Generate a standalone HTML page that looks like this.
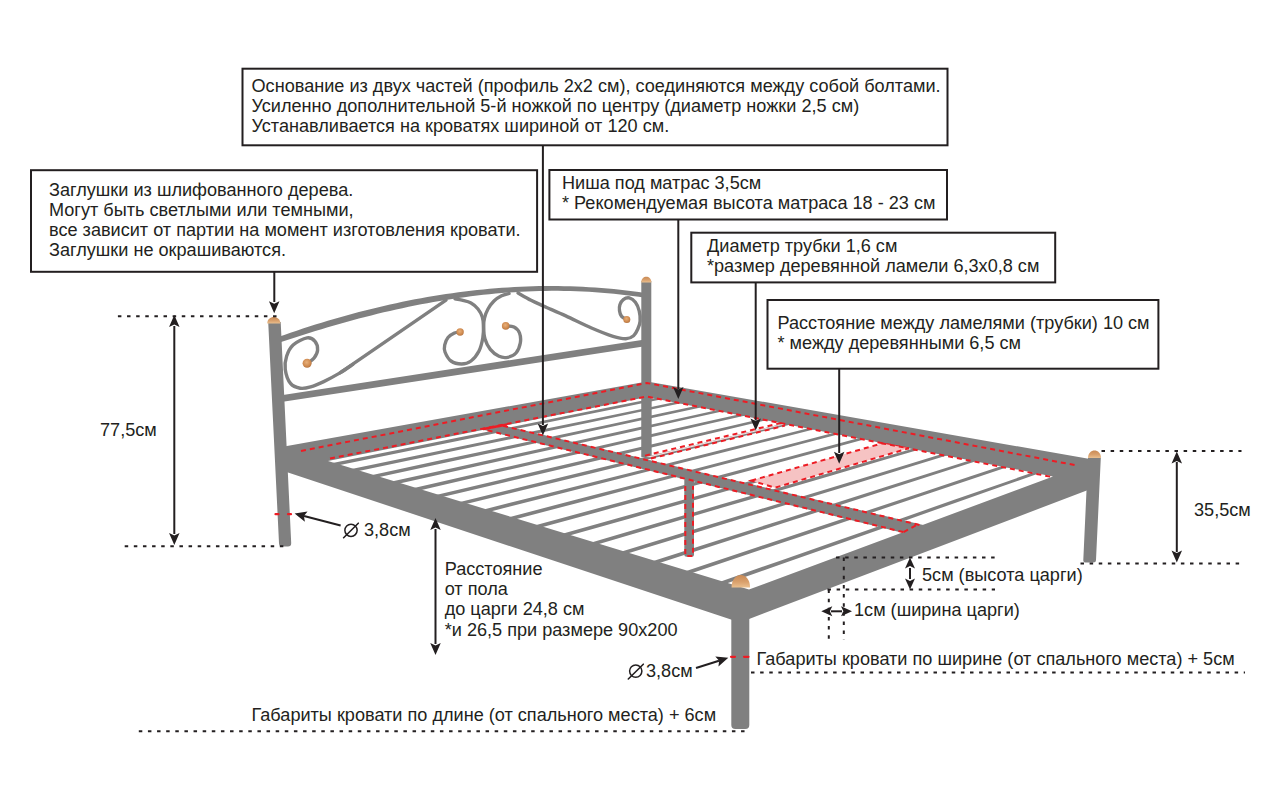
<!DOCTYPE html>
<html><head><meta charset="utf-8"><style>html,body{margin:0;padding:0;background:#fff;width:1280px;height:800px;overflow:hidden}svg{display:block}</style></head>
<body><svg width="1280" height="800" viewBox="0 0 1280 800">
<defs><linearGradient id="capg" x1="0" y1="0" x2="0" y2="1"><stop offset="0" stop-color="#c98a55"/><stop offset="0.55" stop-color="#d9a06c"/><stop offset="1" stop-color="#ebc08f"/></linearGradient><radialGradient id="wood" cx="0.45" cy="0.4" r="0.7"><stop offset="0" stop-color="#e8b07a"/><stop offset="0.6" stop-color="#cf8a4f"/><stop offset="1" stop-color="#a86a3a"/></radialGradient></defs>
<rect width="1280" height="800" fill="#fff"/>
<path d="M268.2,322 L280.7,322 L291.2,543 Q291.3,546.5 288,546.5 L282,546.5 Q279,546.5 279,543 Z" fill="#808080"/>
<path d="M1088,458 L1100.8,458 L1096,560 Q1096,562.5 1093,562.5 L1086,562.5 Q1083.2,562.5 1083.3,560 Z" fill="#808080"/>
<rect x="641.3" y="281" width="10" height="176" fill="#808080"/>
<polygon points="278,337.07 284.22,334.88 290.44,332.74 296.66,330.64 302.88,328.58 309.1,326.56 315.32,324.59 321.54,322.67 327.76,320.78 333.98,318.95 340.2,317.16 346.42,315.41 352.64,313.71 358.86,312.06 365.08,310.46 371.31,308.9 377.53,307.39 383.75,305.93 389.97,304.52 396.19,303.15 402.41,301.84 408.63,300.57 414.85,299.36 421.07,298.19 427.29,297.08 433.51,296.01 439.73,295 445.95,294.04 452.17,293.13 458.39,292.28 464.61,291.48 470.83,290.73 477.05,290.03 483.27,289.39 489.49,288.81 495.71,288.27 501.93,287.8 508.15,287.38 514.37,287.01 520.59,286.7 526.81,286.45 533.03,286.25 539.25,286.12 545.47,286.04 551.69,286.02 557.92,286.05 564.14,286.15 570.36,286.3 576.58,286.52 582.8,286.79 589.02,287.13 595.24,287.52 601.46,287.98 607.68,288.5 613.9,289.08 620.12,289.72 626.34,290.42 632.56,291.19 638.78,292.02 645,292.92 645,297.81 638.78,296.86 632.56,295.97 626.34,295.16 620.12,294.43 613.9,293.76 607.68,293.16 601.46,292.63 595.24,292.18 589.02,291.78 582.8,291.46 576.58,291.2 570.36,291.01 564.14,290.89 557.92,290.83 551.69,290.83 545.47,290.9 539.25,291.02 533.03,291.21 526.81,291.46 520.59,291.77 514.37,292.14 508.15,292.57 501.93,293.06 495.71,293.6 489.49,294.2 483.27,294.86 477.05,295.57 470.83,296.34 464.61,297.15 458.39,298.03 452.17,298.95 445.95,299.93 439.73,300.95 433.51,302.03 427.29,303.15 421.07,304.33 414.85,305.55 408.63,306.82 402.41,308.14 396.19,309.5 389.97,310.9 383.75,312.35 377.53,313.85 371.31,315.38 365.08,316.96 358.86,318.58 352.64,320.24 346.42,321.94 340.2,323.68 333.98,325.46 327.76,327.28 321.54,329.13 315.32,331.02 309.1,332.95 302.88,334.91 296.66,336.9 290.44,338.93 284.22,340.99 278,343.08" fill="#808080"/>
<polygon points="278,395.7 645,339.4 645,346.2 278,402.6" fill="#808080"/>
<g fill="none" stroke="#808080" stroke-width="3.4" stroke-linecap="round">
<path d="M446,300.2 L340,372.9"/>
<path d="M353,364.3 C350.83,365.73 344.88,370.02 340,372.9 C335.12,375.78 328.65,379.27 323.75,381.6 C318.85,383.93 314.54,385.8 310.6,386.9 C306.66,388 303.45,388.78 300.1,388.2 C296.75,387.62 292.98,386.53 290.5,383.4 C288.02,380.27 285.9,373.92 285.25,369.4 C284.6,364.88 285.29,360.33 286.6,356.25 C287.91,352.17 289.68,347.96 293.1,344.9 C296.52,341.84 303.45,338.48 307.1,337.9 C310.75,337.32 313.25,339.37 315,341.4 C316.75,343.43 317.75,347.33 317.6,350.1 C317.45,352.87 315.7,355.85 314.1,358 C312.5,360.15 309.02,362.17 308,363"/>
<path d="M455,298.8 C456.17,299.03 459.33,299.5 462,300.2 C464.67,300.9 468.33,301.53 471,303 C473.67,304.47 476.12,306.67 478,309 C479.88,311.33 481.38,314.17 482.3,317 C483.22,319.83 483.42,322.5 483.5,326 C483.58,329.5 483.55,333.83 482.8,338 C482.05,342.17 480.97,347.17 479,351 C477.03,354.83 473.9,358.83 471,361 C468.1,363.17 464.93,364 461.6,364 C458.27,364 453.77,363 451,361 C448.23,359 446.05,354.67 445,352 C443.95,349.33 444.2,347.42 444.7,345 C445.2,342.58 446.38,339.5 448,337.5 C449.62,335.5 452.38,333.92 454.4,333 C456.42,332.08 459.15,332.17 460.1,332"/>
<path d="M509,293.5 C507.77,293.88 504.1,294.55 501.6,295.8 C499.1,297.05 496.27,298.8 494,301 C491.73,303.2 489.58,306.17 488,309 C486.42,311.83 485.23,315 484.5,318 C483.77,321 483.52,323.5 483.6,327 C483.68,330.5 483.88,335.27 485,339 C486.12,342.73 487.97,346.52 490.3,349.4 C492.63,352.28 496.1,354.98 499,356.3 C501.9,357.62 504.87,357.85 507.7,357.3 C510.53,356.75 513.9,355.38 516,353 C518.1,350.62 519.72,346.33 520.3,343 C520.88,339.67 520.55,335.67 519.5,333 C518.45,330.33 516.3,328.18 514,327 C511.7,325.82 507.08,326.08 505.7,325.9"/>
<path d="M518,293 C520.17,294.21 526.77,298.08 531,300.25 C535.23,302.42 537.6,303.39 543.4,306 C549.2,308.61 557.78,312.23 565.8,315.9 C573.82,319.57 583.63,324.6 591.5,328 C599.37,331.4 607.27,334.52 613,336.3 C618.73,338.08 622.47,338.8 625.9,338.7 C629.33,338.6 631.6,337.35 633.6,335.7 C635.6,334.05 636.82,331.23 637.9,328.8 C638.98,326.37 639.88,324.1 640.1,321.1 C640.32,318.1 639.98,313.95 639.2,310.8 C638.42,307.65 637.05,304.35 635.4,302.2 C633.75,300.05 631.32,298.33 629.3,297.9 C627.28,297.47 624.87,298.45 623.3,299.6 C621.73,300.75 620.53,302.93 619.9,304.8 C619.27,306.67 619.22,308.87 619.5,310.8 C619.78,312.73 620.38,314.97 621.6,316.4 C622.82,317.83 625.93,318.9 626.8,319.4"/>
</g>
<polygon points="332.59,462.99 398.69,449.65 459.91,437.33 516.79,425.9 569.76,415.26 619.21,405.35 665.49,396.06 665.49,398.48 619.21,407.94 569.76,418.05 516.79,428.87 459.91,440.49 398.69,453 332.59,466.51" fill="#808080"/>
<polygon points="351.57,468.96 418.08,455.15 479.62,442.41 536.71,430.6 589.82,419.63 639.35,409.41 685.65,399.85 685.65,402.31 639.35,412.04 589.82,422.45 536.71,433.61 479.62,445.6 418.08,458.53 351.57,472.51" fill="#808080"/>
<polygon points="371.25,475.15 438.17,460.84 500,447.66 557.29,435.45 610.52,424.13 660.11,413.59 706.42,403.75 706.42,406.25 660.11,416.26 610.52,426.98 557.29,438.5 500,450.89 438.17,464.26 371.25,478.73" fill="#808080"/>
<polygon points="391.67,481.57 459,466.74 521.1,453.09 578.56,440.48 631.89,428.78 681.52,417.91 727.81,407.77 727.81,410.3 681.52,420.62 631.89,431.67 578.56,443.55 521.1,456.35 459,470.19 391.67,485.19" fill="#808080"/>
<polygon points="412.89,488.25 480.59,472.86 542.95,458.72 600.57,445.67 653.97,433.59 703.61,422.37 749.86,411.91 749.86,414.49 703.61,425.11 653.97,436.51 600.57,448.78 542.95,462.02 480.59,476.34 412.89,491.89" fill="#808080"/>
<polygon points="434.94,495.19 503,479.22 565.59,464.56 623.34,451.05 676.79,438.56 726.42,426.98 772.6,416.19 772.6,418.8 726.42,429.75 676.79,441.52 623.34,454.19 565.59,467.89 503,482.73 434.94,498.87" fill="#808080"/>
<polygon points="457.88,502.41 526.27,485.82 589.07,470.61 646.92,456.62 700.4,443.7 749.97,431.73 796.06,420.6 796.06,423.25 749.97,434.54 700.4,446.69 646.92,459.8 589.07,473.97 526.27,489.36 457.88,506.12" fill="#808080"/>
<polygon points="481.77,509.93 550.46,492.68 613.43,476.89 671.35,462.39 724.82,449.02 774.32,436.65 820.28,425.16 820.28,427.84 774.32,439.5 724.82,452.05 671.35,465.6 613.43,480.29 550.46,496.25 481.77,513.67" fill="#808080"/>
<polygon points="506.65,517.77 575.62,499.81 638.73,483.42 696.69,468.38 750.1,454.53 799.5,441.74 845.3,429.87 845.3,432.59 799.5,444.62 750.1,457.59 696.69,471.62 638.73,486.85 575.62,503.42 506.65,521.54" fill="#808080"/>
<polygon points="532.61,525.94 601.81,507.24 665.01,490.2 722.97,474.59 776.3,460.24 825.54,447 871.15,434.73 871.15,437.49 825.54,449.92 776.3,463.34 722.97,477.87 665.01,493.66 601.81,510.88 532.61,529.74" fill="#808080"/>
<polygon points="559.7,534.47 629.09,514.98 692.35,497.25 750.26,481.04 803.46,466.16 852.51,452.45 897.87,439.76 897.87,442.56 852.51,455.41 803.46,469.29 750.26,484.35 692.35,500.75 629.09,518.66 559.7,538.3" fill="#808080"/>
<polygon points="588,543.39 657.53,523.06 720.8,504.6 778.61,487.74 831.63,472.3 880.44,458.09 925.52,444.97 925.52,447.81 880.44,461.09 831.63,475.47 778.61,491.09 720.8,508.12 657.53,526.76 588,547.25" fill="#808080"/>
<polygon points="617.59,552.71 687.22,531.48 750.43,512.24 808.08,494.71 860.87,478.68 909.39,463.95 954.14,450.36 954.14,453.23 909.39,466.98 860.87,481.88 808.08,498.1 750.43,515.8 687.22,535.22 617.59,556.61" fill="#808080"/>
<polygon points="648.58,562.48 718.23,540.29 781.32,520.22 838.76,501.97 891.25,485.3 939.42,470.02 983.78,455.95 983.78,458.86 939.42,473.09 891.25,488.54 838.76,505.39 781.32,523.81 718.23,544.06 648.58,566.4" fill="#808080"/>
<polygon points="681.05,572.71 750.65,549.49 813.56,528.54 870.7,509.53 922.83,492.19 970.59,476.33 1014.5,461.74 1014.5,464.68 970.59,479.43 922.83,495.47 870.7,512.98 813.56,532.17 750.65,553.29 681.05,576.67" fill="#808080"/>
<polygon points="715.12,583.45 784.58,559.13 847.22,537.23 903.99,517.4 955.69,499.36 1002.97,482.88 1046.36,467.74 1046.36,470.73 1002.97,486.02 955.69,502.67 903.99,520.89 847.22,540.89 784.58,562.96 715.12,587.44" fill="#808080"/>
<path fill-rule="evenodd" fill="#808080" d="M280,447.3 647,381.5 1090,459 1088,490 740,622.5 285,471.5 Z M328,461 647,397 1053,476.5 749,589.5 Z"/>
<rect x="641.8" y="390" width="9.7" height="66" fill="#808080"/>
<rect x="684.3" y="478" width="9.7" height="78.8" rx="2" fill="#808080"/>
<polygon points="483.2,429.86 493.82,427.73 504.31,425.63 924.29,525.34 913.96,529.09 903.43,532.9" fill="#808080"/>
<path d="M731.3,600 L749.3,600 L749.3,725 Q749.3,729 745.3,729 L735.3,729 Q731.3,729 731.3,725 Z" fill="#808080"/>
<g fill="none" stroke="#ed1c24" stroke-width="2" stroke-dasharray="5,4">
<polyline points="301,451 647,383 1077,465.5"/>
<polyline points="330,458.5 647,396.5 1052,477"/>
<polyline points="487.58,430.36 903.59,532.16"/>
<polyline points="503.04,425.88 921.93,525.52"/>
<polyline points="903.59,532.16 917.46,524.46"/>
<path d="M685.3,486 L685.3,556 L693,556 L693,486"/>
<polyline points="645,455.6 781,423"/>
<polyline points="651,458.5 785,425.6"/>
</g>
<line x1="483.5" y1="429" x2="506" y2="424.7" stroke="#ed1c24" stroke-width="2.6" stroke-linecap="round"/>
<polygon points="751.3,480.6 882,443.4 908.8,448.3 775,487.7" fill="#f6c3c3" stroke="#ed1c24" stroke-width="2" stroke-dasharray="5,4"/>
<polygon points="646,457 782,424.2 784,424.6 650,457.3" fill="#fbe3e3"/>
<path d="M267.2,323.6 C267.2,314.8 280.4,314.8 280.4,323.6 Z" fill="url(#capg)"/>
<path d="M641.2,282.4 C641.2,274.93 651.4,274.93 651.4,282.4 Z" fill="url(#capg)"/>
<path d="M1088,458 C1088,448 1101,448 1101,458 Z" fill="url(#capg)"/>
<path d="M731.55,587.5 C731.55,570.83 750.05,570.83 750.05,587.5 Z" fill="url(#capg)"/>
<circle cx="307.1" cy="363.25" r="4.5" fill="url(#wood)"/>
<circle cx="460.1" cy="332" r="3.7" fill="url(#wood)"/>
<circle cx="505.7" cy="325.9" r="3.8" fill="url(#wood)"/>
<circle cx="626.8" cy="319.4" r="3.5" fill="url(#wood)"/>
<g stroke="#ed1c24" stroke-width="2.2" stroke-linecap="round">
<line x1="275.5" y1="514.2" x2="278.5" y2="514.2"/><line x1="288" y1="514.2" x2="291" y2="514.2"/>
<line x1="731" y1="656.8" x2="735" y2="656.8"/><line x1="744" y1="656.8" x2="748.5" y2="656.8"/>
</g>
<rect x="242.5" y="68.7" width="705" height="76.6" fill="none" stroke="#231f20" stroke-width="2"/>
<rect x="31" y="170.2" width="506.1" height="101.6" fill="none" stroke="#231f20" stroke-width="2"/>
<rect x="549.4" y="170" width="397.6" height="49.5" fill="none" stroke="#231f20" stroke-width="2"/>
<rect x="691.3" y="232.7" width="363.9" height="49.7" fill="none" stroke="#231f20" stroke-width="2"/>
<rect x="767.5" y="300" width="390.9" height="68.7" fill="none" stroke="#231f20" stroke-width="2"/>
<g stroke="#231f20" stroke-width="2">
<line x1="542.9" y1="145.3" x2="542.9" y2="425"/>
<line x1="274.3" y1="271.8" x2="274.3" y2="302"/>
<line x1="678.3" y1="219.5" x2="678.3" y2="389"/>
<line x1="755.7" y1="282.4" x2="755.7" y2="420"/>
<line x1="839.2" y1="368.7" x2="839.2" y2="453"/>
<line x1="174.3" y1="326" x2="174.3" y2="534"/>
<line x1="1176.8" y1="462" x2="1176.8" y2="552"/>
<line x1="910" y1="568" x2="910" y2="579"/>
<line x1="831" y1="611.3" x2="842" y2="611.3"/>
<line x1="435.5" y1="529" x2="435.5" y2="644"/>
<line x1="340.6" y1="525.5" x2="304" y2="516"/>
<line x1="696" y1="668" x2="719" y2="660.8"/>
</g>
<polygon points="542.9,435.6 537.65,423.6 542.9,426 548.15,423.6" fill="#231f20"/>
<polygon points="678.3,399 673.05,387 678.3,389.4 683.55,387" fill="#231f20"/>
<polygon points="755.7,430.6 750.45,418.6 755.7,421 760.95,418.6" fill="#231f20"/>
<polygon points="839.2,463.8 833.95,451.8 839.2,454.2 844.45,451.8" fill="#231f20"/>
<polygon points="274.2,313.3 268.95,301.3 274.2,303.7 279.45,301.3" fill="#231f20"/>
<polygon points="174.3,315 179.55,327 174.3,324.6 169.05,327" fill="#231f20"/>
<polygon points="174.3,545 169.05,533 174.3,535.4 179.55,533" fill="#231f20"/>
<polygon points="1176.8,451.5 1182.05,463.5 1176.8,461.1 1171.55,463.5" fill="#231f20"/>
<polygon points="1176.8,562.5 1171.55,550.5 1176.8,552.9 1182.05,550.5" fill="#231f20"/>
<polygon points="910,557.5 915,568.5 910,566.1 905,568.5" fill="#231f20"/>
<polygon points="910,589.5 905,578.5 910,580.9 915,578.5" fill="#231f20"/>
<polygon points="821.3,611.3 832.3,606.3 829.9,611.3 832.3,616.3" fill="#231f20"/>
<polygon points="852,611.3 841,616.3 843.4,611.3 841,606.3" fill="#231f20"/>
<polygon points="435.5,518 440.75,530 435.5,527.6 430.25,530" fill="#231f20"/>
<polygon points="435.5,655 430.25,643 435.5,645.4 440.75,643" fill="#231f20"/>
<polygon points="294.6,513.6 307.53,511.52 303.89,516 304.9,521.69" fill="#231f20"/>
<polygon points="728.3,657.8 718.44,666.42 719.15,660.69 715.28,656.41" fill="#231f20"/>
<g stroke="#231f20" stroke-width="2" stroke-dasharray="3.5,5.625">
<line x1="117.9" y1="316.3" x2="278" y2="316.3"/>
<line x1="124.7" y1="546.3" x2="285.7" y2="546.3"/>
<line x1="1101.5" y1="451" x2="1241.5" y2="451"/>
<line x1="1080.5" y1="563.5" x2="1241.5" y2="563.5"/>
<line x1="836" y1="557.5" x2="995" y2="557.5"/>
<line x1="827.5" y1="589.5" x2="995" y2="589.5"/>
<line x1="828.8" y1="589.5" x2="828.8" y2="640"/>
<line x1="843.8" y1="557.5" x2="843.8" y2="640"/>
<line x1="138.8" y1="731.3" x2="745.5" y2="731.3"/>
<line x1="751" y1="672.5" x2="1245" y2="672.5"/>
</g>
<circle cx="351" cy="530.3" r="6.15" fill="none" stroke="#231f20" stroke-width="1.5"/><line x1="343.6" y1="537.7" x2="358.3" y2="523.2" stroke="#231f20" stroke-width="1.6" stroke-linecap="round"/>
<circle cx="635.75" cy="671.1" r="6.15" fill="none" stroke="#231f20" stroke-width="1.5"/><line x1="628.3" y1="679" x2="643.3" y2="664.2" stroke="#231f20" stroke-width="1.6" stroke-linecap="round"/>
<g font-family="Liberation Sans, sans-serif" font-size="18.12" fill="#231f20">
<text x="251.5" y="92">Основание из двух частей (профиль 2х2 см), соединяются между собой болтами.</text>
<text x="251.5" y="112">Усиленно дополнительной 5-й ножкой по центру (диаметр ножки 2,5 см)</text>
<text x="251.5" y="132">Устанавливается на кроватях шириной от 120 см.</text>
<text x="49" y="195.5">Заглушки из шлифованного дерева.</text>
<text x="49" y="215.5">Могут быть светлыми или темными,</text>
<text x="49" y="235.5">все зависит от партии на момент изготовления кровати.</text>
<text x="49" y="255.5">Заглушки не окрашиваются.</text>
<text x="562" y="189">Ниша под матрас 3,5см</text>
<text x="562" y="209">* Рекомендуемая высота матраса 18 - 23 см</text>
<text x="707" y="252">Диаметр трубки 1,6 см</text>
<text x="707" y="272">*размер деревянной ламели 6,3х0,8 см</text>
<text x="777.5" y="328.5">Расстояние между ламелями (трубки) 10 см</text>
<text x="777.5" y="349">* между деревянными 6,5 см</text>
<text x="100" y="436.4">77,5см</text>
<text x="1194" y="516.3">35,5см</text>
<text x="444.7" y="574.5">Расстояние</text>
<text x="444.7" y="595">от пола</text>
<text x="444.7" y="615">до царги 24,8 см</text>
<text x="444.7" y="635.5">*и 26,5 при размере 90х200</text>
<text x="364" y="536">3,8см</text>
<text x="646" y="677">3,8см</text>
<text x="251.5" y="720.5">Габариты кровати по длине (от спального места) + 6см</text>
<text x="756.5" y="664.5">Габариты кровати по ширине (от спального места) + 5см</text>
<text x="922" y="581.3">5см (высота царги)</text>
<text x="854" y="616.3">1см (ширина царги)</text>
</g>
</svg></body></html>
